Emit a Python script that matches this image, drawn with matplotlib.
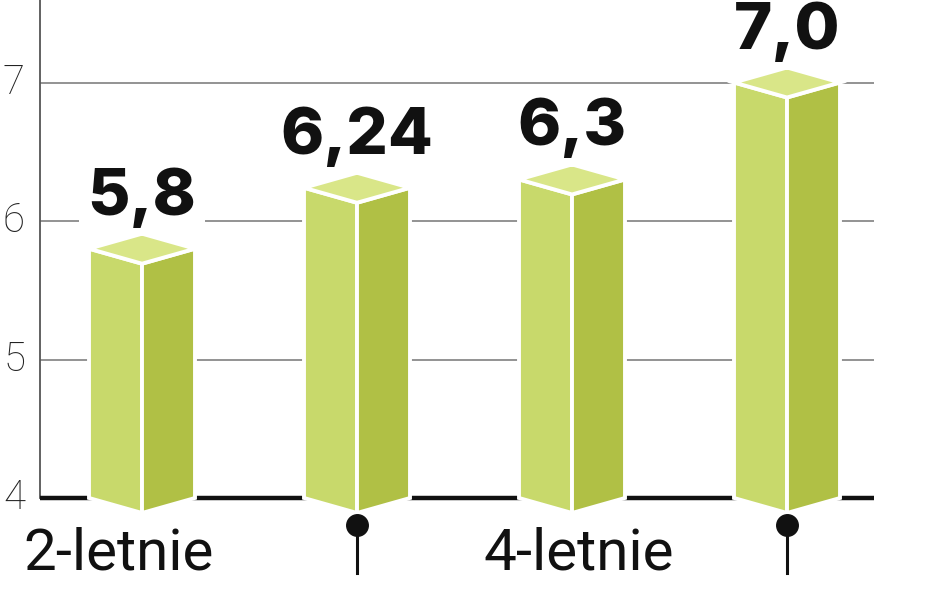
import matplotlib
matplotlib.use("Agg")
import matplotlib.pyplot as plt
from matplotlib.patches import Polygon
from matplotlib import font_manager as fm

# ---- data ----
values = [5.8, 6.24, 6.3, 7.0]
value_labels = ["5,8", "6,24", "6,3", "7,0"]
group_labels = ["2-letnie", "4-letnie"]
group_label_pos = [-0.11, 2.03]
pin_bars = [1, 3]
yticks = [4, 5, 6, 7]

names = {f.name for f in fm.fontManager.ttflist}
narrow = "Liberation Sans Narrow" if "Liberation Sans Narrow" in names else "Roboto"
bold_font = "Inter" if "Inter" in names else "DejaVu Sans"
light_font = "Roboto" if "Roboto" in names else "DejaVu Sans"

W, H, DPI = 948, 593, 100
fig = plt.figure(figsize=(W / DPI, H / DPI), dpi=DPI)
ax = fig.add_axes([0, 0, 1, 1])

# pixel <-> data mapping (layout)
px_per_x = 215.0
px_per_y = 138.5
x0_px = 142.0
base_px = 498.0
ax.set_xlim(-x0_px / px_per_x, (W - x0_px) / px_per_x)
ax.set_ylim(4 - (H - base_px) / px_per_y, 4 + base_px / px_per_y)
ax.axis("off")

def px2x(p):
    return (p - x0_px) / px_per_x

def py2y(p):
    return 4 + (base_px - p) / px_per_y

xl, xr = px2x(40), px2x(874)
base = yticks[0]

# gridlines
for t in yticks[1:]:
    ax.plot([xl, xr], [t, t], color="#8a8a8a", lw=1.3, zorder=1, solid_capstyle="butt")
# vertical axis
ax.plot([xl, xl], [base, py2y(0)], color="#555555", lw=1.3, zorder=1)
# baseline
ax.plot([xl, xr], [base, base], color="#111111", lw=3.2, zorder=2, solid_capstyle="butt")

# tick labels
for t in yticks:
    ax.text(px2x(25), t, str(t), ha="right", va="center", fontsize=29,
            fontfamily=light_font, fontweight="light", color="#222222", zorder=5)

hw = 53 / px_per_x
d = 15 / px_per_y
front = "#c8d96b"
side = "#b0c045"
top = "#d9e688"
for i, v in enumerate(values):
    x = i
    f = Polygon([(x - hw, base), (x, base - d), (x, v - d), (x - hw, v)],
                closed=True, facecolor=front, edgecolor="white", lw=2.8, zorder=3,
                joinstyle="miter")
    s = Polygon([(x, base - d), (x + hw, base), (x + hw, v), (x, v - d)],
                closed=True, facecolor=side, edgecolor="white", lw=2.8, zorder=3,
                joinstyle="miter")
    tp = Polygon([(x - hw, v), (x, v - d), (x + hw, v), (x, v + d)],
                 closed=True, facecolor=top, edgecolor="white", lw=2.8, zorder=3,
                 joinstyle="miter")
    for p in (f, s, tp):
        ax.add_patch(p)
    ax.text(x, v + 34 / px_per_y, value_labels[i], ha="center", va="baseline",
            fontsize=47, fontweight="heavy", fontfamily=bold_font, color="#111111",
            zorder=6, bbox=dict(facecolor="white", edgecolor="none", pad=6))

# pins
for i in pin_bars:
    ax.plot([i, i], [py2y(525), py2y(573)], color="#111111", lw=2.2, zorder=4)
    ax.plot([i], [py2y(525)], marker="o", ms=15.5, color="#111111", zorder=5)

# group labels
for xp, lab in zip(group_label_pos, group_labels):
    ax.text(xp, py2y(569), lab, ha="center", va="baseline", fontsize=42,
            fontfamily=narrow, color="#111111", zorder=5)

fig.savefig("out.png", dpi=DPI, facecolor="white")
